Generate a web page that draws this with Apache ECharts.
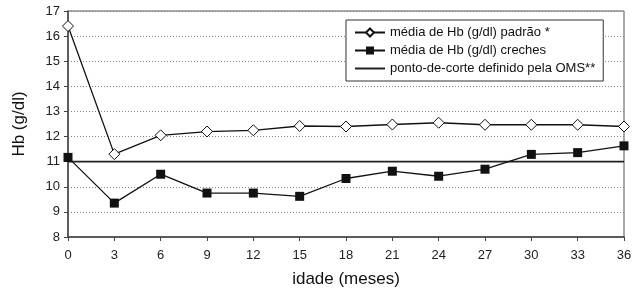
<!DOCTYPE html>
<html>
<head>
<meta charset="utf-8">
<script src="https://cdn.jsdelivr.net/npm/echarts@6/dist/echarts.min.js"></script>
<style>
  html, body { margin: 0; padding: 0; background: #fff; }
  #chart { width: 639px; height: 293px; }
</style>
</head>
<body>
<div id="chart"></div>
<script>
// idade em meses e médias de Hb
const idades = [0, 3, 6, 9, 12, 15, 18, 21, 24, 27, 30, 33, 36];
const hbPadrao = [16.4, 11.3, 12.05, 12.2, 12.25, 12.42, 12.4, 12.48, 12.55, 12.47, 12.47, 12.47, 12.4];
const hbCreches = [11.17, 9.35, 10.5, 9.75, 9.75, 9.62, 10.33, 10.62, 10.42, 10.7, 11.29, 11.36, 11.63];
const pontoDeCorte = 11;
const nomes = ["média de Hb (g/dl) padrão *", "média de Hb (g/dl) creches", "ponto-de-corte definido pela OMS**"];

const myChart = echarts.init(document.getElementById("chart"));
const font = "Liberation Sans, Arial, sans-serif";

const option = {
  animation: false,
  grid: {
    left: 68,
    right: 15,
    top: 11,
    bottom: 54,
    show: true,
    borderColor: "#555",
    borderWidth: 1,
  },
  legend: {
    orient: "vertical",
    left: 346,
    top: 20,
    padding: [6, 8, 6, 8],
    itemGap: 5,
    itemWidth: 30,
    itemHeight: 10,
    backgroundColor: "#fff",
    borderColor: "#333",
    borderWidth: 1,
    borderRadius: 0,
    textStyle: { fontFamily: font, fontSize: 13, color: "#111" },
    data: [
      nomes[0],
      nomes[1],
      { name: nomes[2], icon: "path://M0,0 H30 V2 H0 Z" },
    ],
  },
  xAxis: {
    type: "value",
    min: 0,
    max: 36,
    interval: 3,
    name: "idade (meses)",
    nameLocation: "middle",
    nameGap: 34,
    nameTextStyle: { fontFamily: font, fontSize: 17, color: "#111" },
    axisLine: { lineStyle: { color: "#444", width: 1.5 } },
    axisTick: { show: true, length: 4, lineStyle: { color: "#444" } },
    axisLabel: { fontFamily: font, fontSize: 13, color: "#222", margin: 12 },
    splitLine: { show: false },
  },
  yAxis: {
    type: "value",
    min: 8,
    max: 17,
    interval: 1,
    name: "Hb (g/dl)",
    nameLocation: "middle",
    nameGap: 40,
    nameTextStyle: { fontFamily: font, fontSize: 17, color: "#111" },
    axisLine: { show: true, lineStyle: { color: "#444", width: 1.5 } },
    axisTick: { show: true, length: 4, lineStyle: { color: "#444" } },
    axisLabel: { fontFamily: font, fontSize: 13, color: "#222", margin: 8 },
    splitLine: { show: true, lineStyle: { color: "#888", type: [1, 2], width: 1 } },
  },
  series: [
    {
      name: nomes[0],
      type: "line",
      data: idades.map((x, i) => [x, hbPadrao[i]]),
      symbol: "diamond",
      symbolSize: [11, 11],
      showAllSymbol: true,
      lineStyle: { color: "#111", width: 1.3 },
      itemStyle: { color: "#fff", borderColor: "#111", borderWidth: 1 },
      z: 3,
    },
    {
      name: nomes[1],
      type: "line",
      data: idades.map((x, i) => [x, hbCreches[i]]),
      symbol: "rect",
      symbolSize: [9, 9],
      showAllSymbol: true,
      lineStyle: { color: "#111", width: 1.3 },
      itemStyle: { color: "#111", borderColor: "#111", borderWidth: 0 },
      z: 4,
    },
    {
      name: nomes[2],
      type: "line",
      data: [[idades[0], pontoDeCorte], [idades[idades.length - 1], pontoDeCorte]],
      symbol: "none",
      lineStyle: { color: "#222", width: 1.8 },
      itemStyle: { color: "#222" },
      z: 2,
    },
  ],
};
myChart.setOption(option);
</script>
</body>
</html>
